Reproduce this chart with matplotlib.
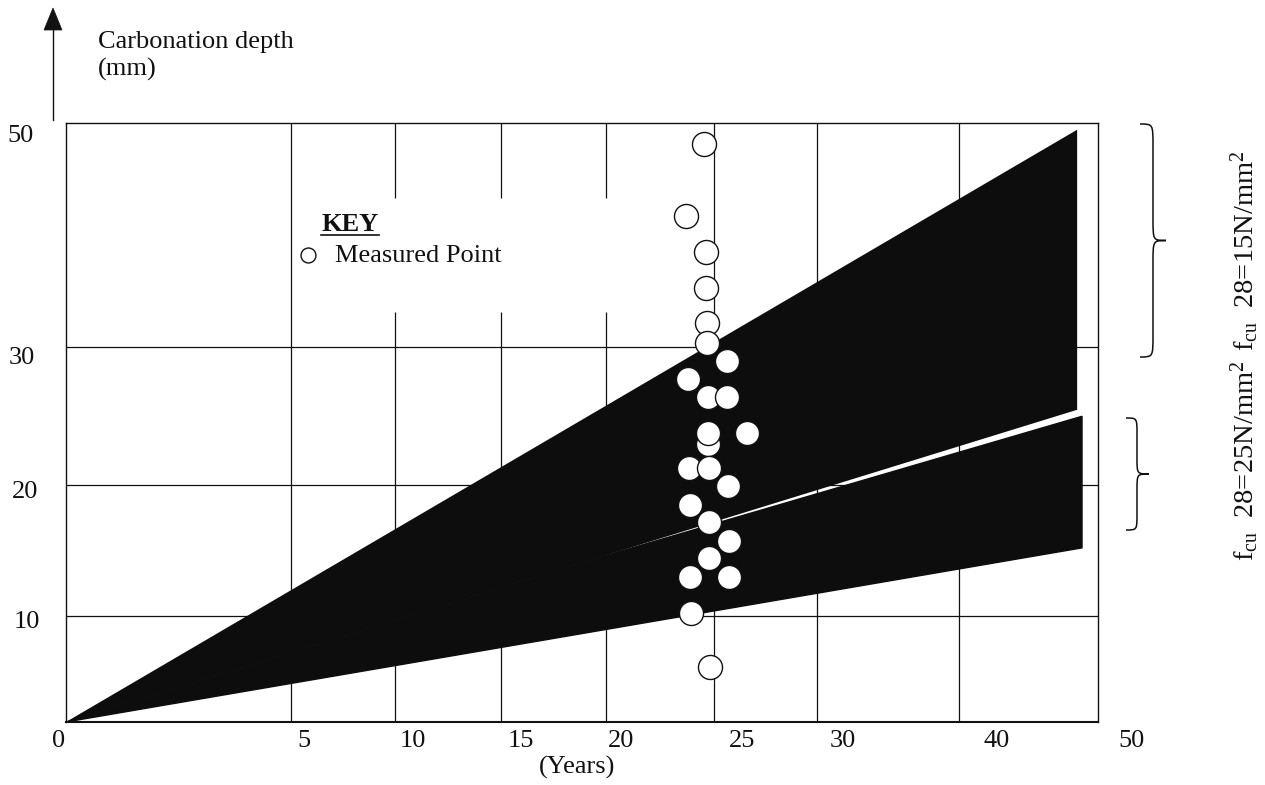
import numpy as np
import matplotlib
matplotlib.use("Agg")
import matplotlib.pyplot as plt
from matplotlib.transforms import Affine2D, ScaledTranslation
from matplotlib.patches import Polygon, PathPatch
from matplotlib.path import Path
from matplotlib.lines import Line2D

plt.rcParams["font.family"] = ["Liberation Serif", "DejaVu Serif"]
plt.rcParams["mathtext.fontset"] = "custom"
plt.rcParams["mathtext.rm"] = "Liberation Serif"
plt.rcParams["mathtext.it"] = "Liberation Serif:italic"
plt.rcParams["mathtext.bf"] = "Liberation Serif:bold"

# ---------------- data ----------------
x_tick_years = [0, 5, 10, 15, 20, 25, 30, 40, 50]
x_tick_labels = ["0", "5", "10", "15", "20", "25", "30", "40", "50"]
y_tick_depths = [10, 20, 30, 50]
y_tick_labels = ["10", "20", "30", "50"]

# measured carbonation depths (mm) at age (years)
meas_years = [24.54, 23.70, 24.63, 24.63, 24.68, 24.68, 25.63, 23.80, 24.72, 25.63,
              24.72, 24.72, 26.60, 23.84, 24.77, 25.68, 23.89, 24.77, 25.73, 24.77,
              23.89, 25.73, 23.94, 24.81]
meas_depth = [48.1, 41.7, 38.5, 35.3, 32.1, 30.4, 29.0, 27.7, 26.4, 26.4,
              23.0, 23.8, 23.8, 21.2, 21.2, 19.9, 18.5, 17.2, 15.7, 14.4,
              13.0, 13.0, 10.2, 5.2]

# predicted ranges: fcu28 = 15 N/mm2 (upper) and 25 N/mm2 (lower)
band_15_years = [0, 48.5, 48.5]
band_15_depth = [0, 49.4, 25.45]
band_25_years = [0, 19.7, 48.85, 48.85]
band_25_depth = [0, 14.48, 24.98, 15.2]

grid_years_full = [5, 25, 30, 40]
grid_years_split = [10, 15, 20]
key_gap_depth = (33.1, 43.3)
grid_depths = [10, 20, 30]

# ---------------- hand-drawn (non-uniform) axis geometry ----------------
W, H = 1265, 785
x_knot_years = [0, 5, 10, 15, 20, 25, 30, 40, 50]
x_knot_px = [66, 291, 395, 501, 606, 714, 817, 959, 1098]
y_knot_depth = [0, 10, 20, 30, 50]
y_knot_px = [722, 616, 485, 347, 123]


def pw(v, xp, fp):
    v = np.asarray(v, dtype=float)
    xp = np.asarray(xp, dtype=float)
    fp = np.asarray(fp, dtype=float)
    out = np.interp(v, xp, fp)
    lo_s = (fp[1] - fp[0]) / (xp[1] - xp[0])
    hi_s = (fp[-1] - fp[-2]) / (xp[-1] - xp[-2])
    out = np.where(v < xp[0], fp[0] + (v - xp[0]) * lo_s, out)
    out = np.where(v > xp[-1], fp[-1] + (v - xp[-1]) * hi_s, out)
    return out


def fx(v):
    return pw(v, x_knot_years, x_knot_px)


def fx_inv(p):
    return pw(p, x_knot_px, x_knot_years)


def fy(v):
    return -pw(v, y_knot_depth, y_knot_px)


def fy_inv(p):
    return pw(p, [-q for q in y_knot_px], y_knot_depth)


fig = plt.figure(figsize=(W / 100, H / 100), dpi=100)
fig.patch.set_facecolor("white")
ax = fig.add_axes([66 / W, (H - 722) / H, (1098 - 66) / W, (722 - 123) / H])
ax.set_xscale("function", functions=(fx, fx_inv))
ax.set_yscale("function", functions=(fy, fy_inv))
ax.set_xlim(0, 50)
ax.set_ylim(0, 50)

# pixel (top-left origin) -> display transform
T = Affine2D().scale(1, -1).translate(0, H)

ink = "#111111"
band_col = "#0d0d0d"
FS = 19

# grid
ax.hlines(grid_depths, 0, 50, color=ink, lw=0.9, zorder=1)
ax.vlines(grid_years_full, 0, 50, color=ink, lw=0.9, zorder=1)
ax.vlines(grid_years_split, 0, key_gap_depth[0], color=ink, lw=0.9, zorder=1)
ax.vlines(grid_years_split, key_gap_depth[1], 50, color=ink, lw=0.9, zorder=1)

# bands
ax.fill(band_15_years, band_15_depth, facecolor=band_col, edgecolor="none",
        lw=0, zorder=2)
ax.fill(band_25_years, band_25_depth, facecolor=band_col, edgecolor=band_col,
        lw=1.0, zorder=2.1)

# measured points
pts = ax.scatter(meas_years, meas_depth, s=300, facecolor="white", edgecolor=ink,
                 linewidths=1.0, zorder=4, clip_on=False, label="Measured Point")

for side in ["left", "right", "top"]:
    ax.spines[side].set_linewidth(1.0)
    ax.spines[side].set_color(ink)
ax.spines["bottom"].set_linewidth(1.5)
ax.spines["bottom"].set_color(ink)

# ticks
ax.set_xticks(x_tick_years, x_tick_labels)
ax.set_yticks(y_tick_depths, y_tick_labels)
ax.minorticks_off()
ax.tick_params(axis="x", length=0, pad=6.0, labelsize=FS, colors=ink)
ax.tick_params(axis="y", length=0, pad=18.7, labelsize=FS, colors=ink)

x_label_dx = [-7, 13, 18, 20, 15, 28, 26, 38, 34]
y_label_dx = [0, -2, -5, -6]
y_label_dy = [-3, -4, -8, -11]
for lab, dx in zip(ax.get_xticklabels(), x_label_dx):
    lab.set_transform(lab.get_transform() + ScaledTranslation(dx / 100, 0, fig.dpi_scale_trans))
for lab, dx, dy in zip(ax.get_yticklabels(), y_label_dx, y_label_dy):
    lab.set_transform(lab.get_transform() + ScaledTranslation(dx / 100, dy / 100, fig.dpi_scale_trans))

ax.set_xlabel("(Years)", fontsize=FS, color=ink, va="baseline")
ax.xaxis.set_label_coords((577 - 66) / (1098 - 66), -(774 - 722) / (722 - 123))

# y-axis arrow and title
fig.add_artist(Line2D([53, 53], [120, 26], transform=T, color=ink, lw=1.0))
fig.add_artist(Polygon([[53, 8], [44, 30], [62, 30]], closed=True, transform=T,
                       facecolor=ink, edgecolor=ink, lw=0.5))
fig.text(98, 48, "Carbonation depth", transform=T, fontsize=FS, color=ink, va="baseline")
fig.text(98, 76, "(mm)", transform=T, fontsize=FS, color=ink, va="baseline")

# key
fig.text(321, 231, "KEY", transform=T, fontsize=FS, fontweight="bold", color=ink, va="baseline")
fig.add_artist(Line2D([321, 379], [235, 235], transform=T, color=ink, lw=1.2))
leg = ax.legend(handles=[pts], loc="center left",
                bbox_to_anchor=(300 / W, 1 - 255 / H), bbox_transform=fig.transFigure,
                frameon=False, fontsize=FS, markerscale=0.62, handlelength=0.62,
                handletextpad=0.7, borderpad=0, borderaxespad=0)
for t in leg.get_texts():
    t.set_color(ink)


# braces
def brace(x0, xm, xc, y0, y1, r):
    ym = (y0 + y1) / 2
    verts = [(x0, y0), (xm, y0), (xm, y0), (xm, y0 + r),
             (xm, ym - r),
             (xm, ym), (xm, ym), (xc, ym),
             (xm, ym), (xm, ym), (xm, ym + r),
             (xm, y1 - r),
             (xm, y1), (xm, y1), (x0, y1)]
    codes = [Path.MOVETO, Path.CURVE4, Path.CURVE4, Path.CURVE4,
             Path.LINETO,
             Path.CURVE4, Path.CURVE4, Path.CURVE4,
             Path.CURVE4, Path.CURVE4, Path.CURVE4,
             Path.LINETO,
             Path.CURVE4, Path.CURVE4, Path.CURVE4]
    fig.add_artist(PathPatch(Path(verts, codes), transform=T, facecolor="none",
                             edgecolor=ink, lw=1.1))


brace(1140, 1153, 1166, 124, 357, 22)
brace(1126, 1137, 1149, 418, 530, 16)

fig.text(1245, 251, r"f$_{\mathrm{cu}}$  28=15N/mm$^{2}$", transform=T, fontsize=20.5,
         color=ink, rotation=90, ha="center", va="center")
fig.text(1245, 461, r"f$_{\mathrm{cu}}$  28=25N/mm$^{2}$", transform=T, fontsize=20.5,
         color=ink, rotation=90, ha="center", va="center")

fig.savefig("out.png", dpi=100, facecolor="white")
